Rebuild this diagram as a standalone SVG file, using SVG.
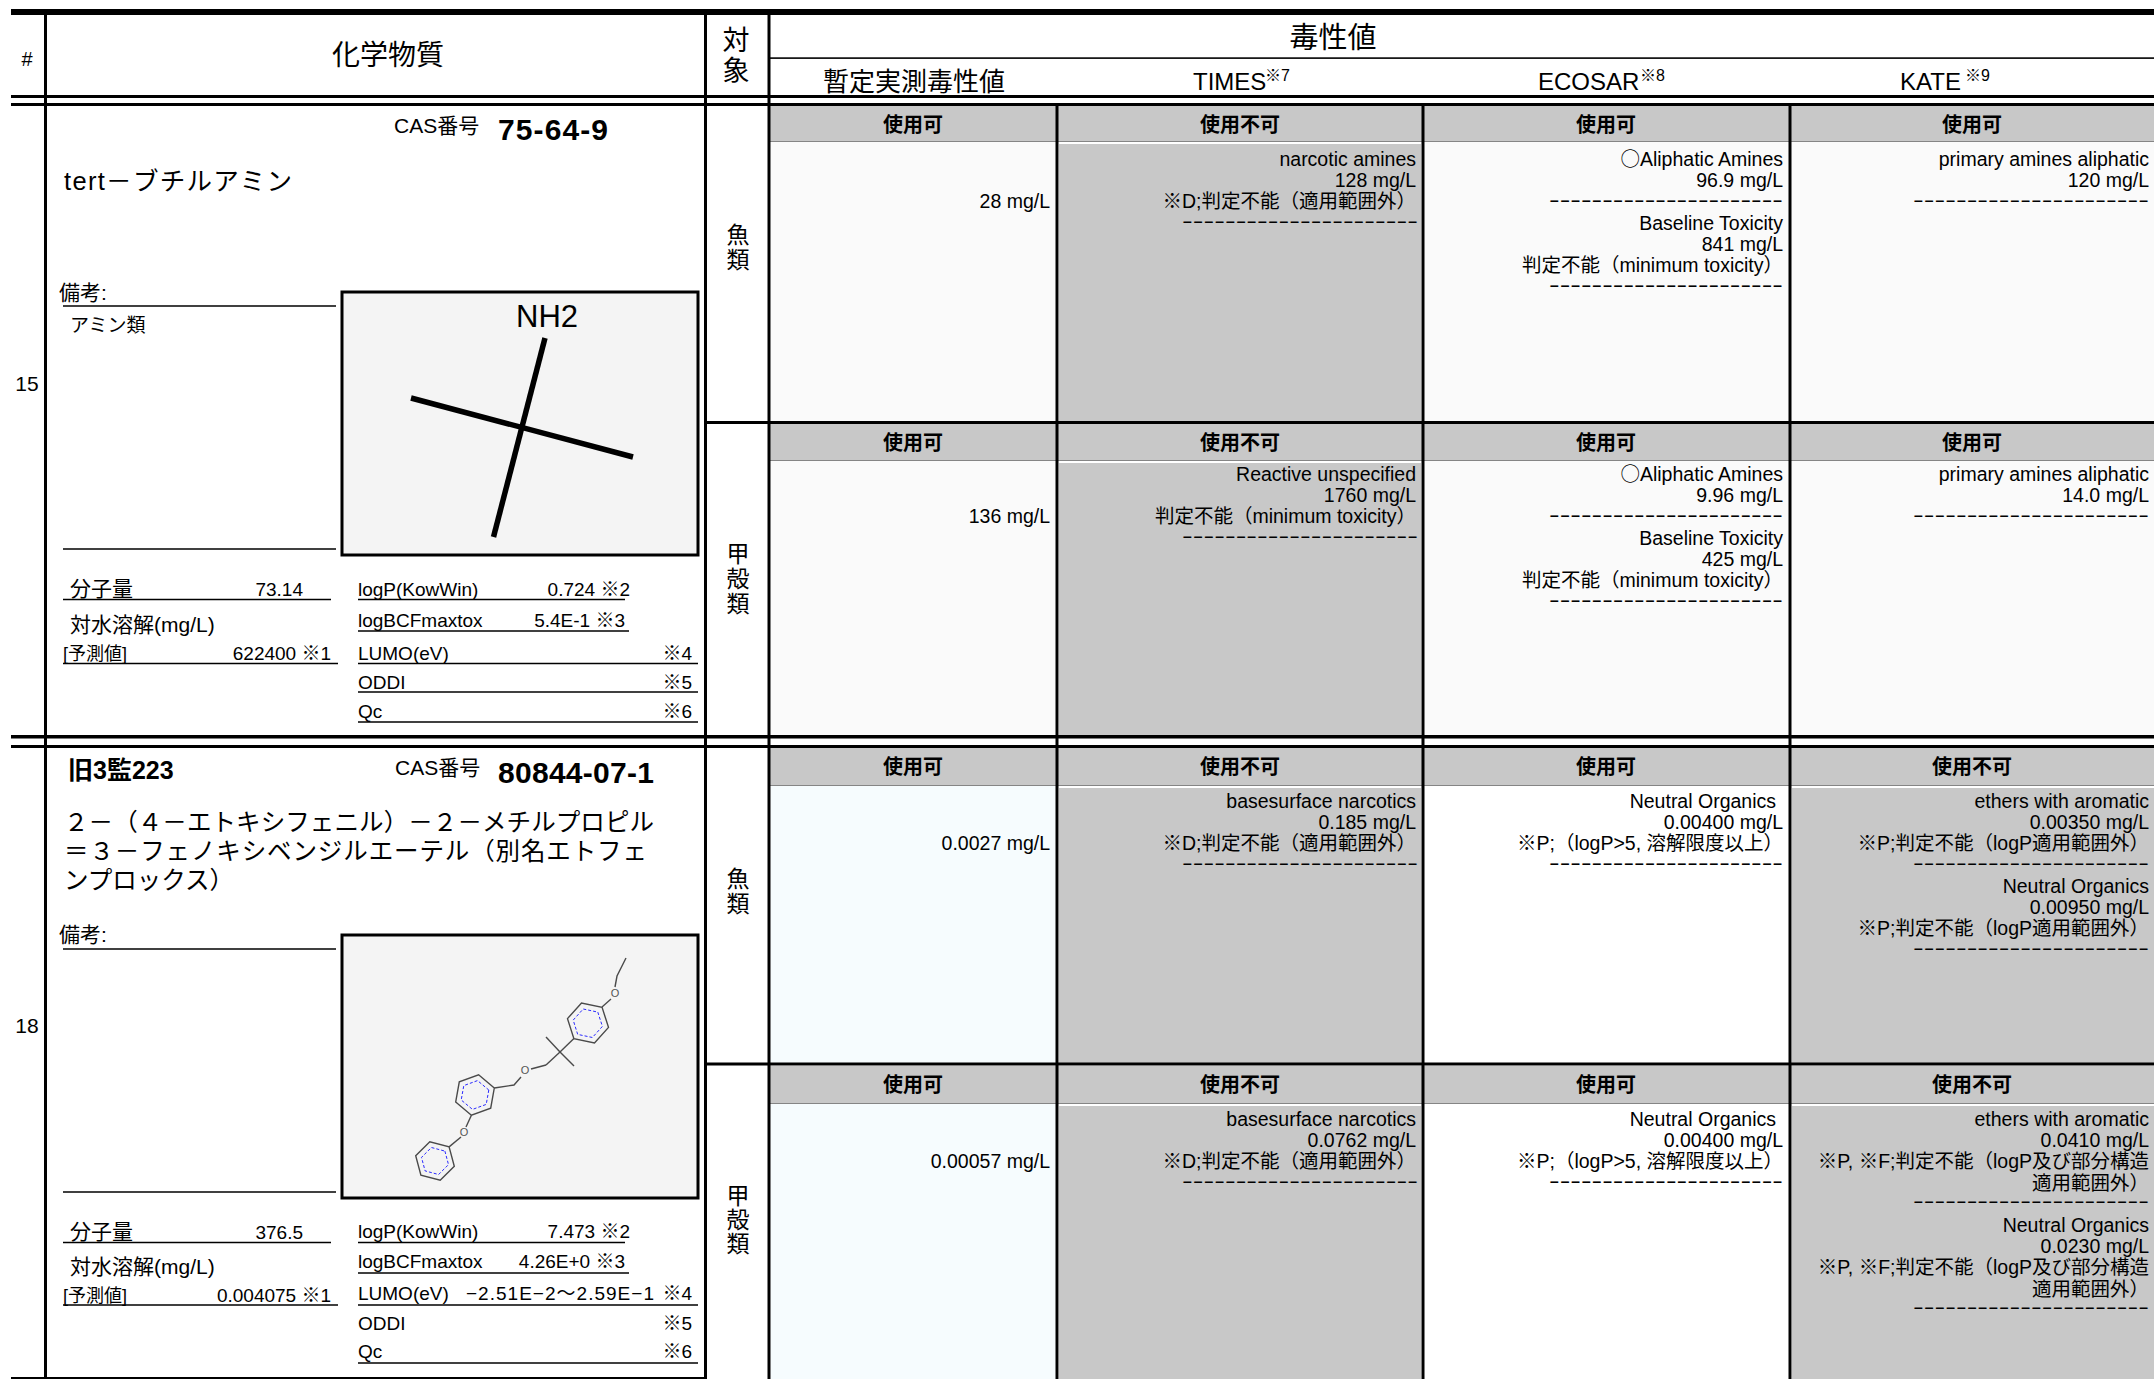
<svg xmlns="http://www.w3.org/2000/svg" width="2154" height="1379" viewBox="0 0 2154 1379">
<style>
text{font-family:"Liberation Sans","Noto Sans CJK JP",sans-serif;fill:#000}
.j{font-family:"Noto Sans CJK JP","Liberation Sans",sans-serif}
.d{font-size:19.5px;text-anchor:end}
.dash{font-size:19.5px;text-anchor:end}
.b{font-size:20px;font-weight:bold;text-anchor:middle}
.m{text-anchor:middle}
.e{text-anchor:end}
.p{font-size:19px}
.v{font-family:"Noto Sans CJK JP",sans-serif;font-size:23px;writing-mode:tb}
.band{fill:#c8c8c8}
.bandl{stroke:#858585;stroke-width:1}
.ok{fill:#fafafa}
.ok2{fill:#f6fcfe}
.wh{fill:#ffffff}
.ng{fill:#c8c8c8}
.ul{stroke:#000;stroke-width:1.5}
.bl{fill:#000}
.box{fill:#f4f4f4;stroke:#000;stroke-width:3}
.mol{stroke:#4a4a4a;stroke-width:1.4;fill:none}
.aro{stroke:#2a2aff;stroke-width:1;fill:none;stroke-dasharray:3 2}
.ol{font-size:11px;fill:#555;text-anchor:middle}
</style>
<rect x="0" y="0" width="2154" height="1379" fill="#ffffff"/>

<g id="backgrounds">
  <rect class="band" x="769" y="106" width="1385" height="35"/>
  <line class="bandl" x1="769" y1="141.5" x2="2154" y2="141.5"/>
  <rect class="ok" x="770.5" y="142" width="285" height="279"/>
  <rect class="ng" x="1059" y="144" width="362" height="277"/>
  <rect class="ok" x="1424.5" y="142" width="364" height="279"/>
  <rect class="ok" x="1791.5" y="142" width="363" height="279"/>

  <rect class="band" x="769" y="424" width="1385" height="36"/>
  <line class="bandl" x1="769" y1="460.5" x2="2154" y2="460.5"/>
  <rect class="ok" x="770.5" y="461" width="285" height="274"/>
  <rect class="ng" x="1059" y="463" width="362" height="272"/>
  <rect class="ok" x="1424.5" y="461" width="364" height="274"/>
  <rect class="ok" x="1791.5" y="461" width="363" height="274"/>

  <rect class="band" x="769" y="748" width="1385" height="37"/>
  <line class="bandl" x1="769" y1="785.5" x2="2154" y2="785.5"/>
  <rect class="ok2" x="770.5" y="786" width="285" height="277"/>
  <rect class="ng" x="1059" y="788" width="362" height="275"/>
  <rect class="wh" x="1424.5" y="786" width="364" height="277"/>
  <rect class="ng" x="1792" y="788" width="362" height="275"/>

  <rect class="band" x="769" y="1066" width="1385" height="37"/>
  <line class="bandl" x1="769" y1="1103.5" x2="2154" y2="1103.5"/>
  <rect class="ok2" x="770.5" y="1104" width="285" height="275"/>
  <rect class="ng" x="1059" y="1106" width="362" height="273"/>
  <rect class="wh" x="1424.5" y="1104" width="364" height="275"/>
  <rect class="ng" x="1792" y="1106" width="362" height="273"/>
</g>

<g id="connectors">
  <rect class="bl" x="11" y="9" width="2143" height="6"/>
  <rect class="bl" x="11" y="95" width="2143" height="3"/>
  <rect class="bl" x="11" y="103" width="2143" height="3"/>
  <rect class="bl" x="769" y="57.3" width="1385" height="1.6"/>
  <rect class="bl" x="44" y="9" width="3" height="1370"/>
  <rect class="bl" x="704" y="9" width="3" height="1370"/>
  <rect class="bl" x="767.5" y="9" width="3" height="1370"/>
  <rect class="bl" x="1055.5" y="103" width="3" height="1276"/>
  <rect class="bl" x="1421.5" y="103" width="3" height="1276"/>
  <rect class="bl" x="1788.5" y="103" width="3" height="1276"/>
  <rect class="bl" x="704" y="421" width="1450" height="3"/>
  <rect class="bl" x="11" y="735" width="2143" height="3.5"/>
  <rect class="bl" x="11" y="745" width="2143" height="3"/>
  <rect class="bl" x="704" y="1062.5" width="1450" height="3"/>
  <rect class="bl" x="11" y="1377" width="695" height="2"/>
</g>

<g id="header">
  <text x="27" y="66" class="m" font-size="20">#</text>
  <text x="388" y="65" class="m j" font-size="28">化学物質</text>
  <text x="736" y="26" class="v" style="font-size:27px" letter-spacing="3">対象</text>
  <text x="1333" y="48" class="m j" font-size="29">毒性値</text>
  <text x="823" y="91" class="j" font-size="26">暫定実測毒性値</text>
  <text x="1193" y="90" font-size="24">TIMES</text><text x="1265" y="81" font-size="16">※7</text>
  <text x="1538" y="90" font-size="24">ECOSAR</text><text x="1640" y="81" font-size="16">※8</text>
  <text x="1900" y="90" font-size="24">KATE</text><text x="1965" y="81" font-size="16">※9</text>
</g>

<g id="row15-chem">
  <text x="27" y="391" class="m" font-size="21">15</text>
  <text x="394" y="133" font-size="21">CAS番号</text>
  <text x="498" y="140" font-size="30" font-weight="bold" textLength="110">75-64-9</text>
  <text x="64" y="190" font-size="25.5" textLength="228">tert－ブチルアミン</text>
  <text x="59" y="300" font-size="21">備考:</text>
  <line class="ul" x1="63" y1="306" x2="336" y2="306"/>
  <text x="70" y="332" font-size="19">アミン類</text>
  <line class="ul" x1="63" y1="549" x2="336" y2="549"/>
  <g id="row15-structure">
    <rect class="box" x="342" y="292" width="356" height="263"/>
    <text x="516" y="327" font-size="31" fill="#111">NH2</text>
    <line x1="545" y1="338" x2="493.5" y2="537" stroke="#000" stroke-width="5.5"/>
    <line x1="411" y1="398" x2="633" y2="457" stroke="#000" stroke-width="5.5"/>
  </g>
  <text x="70" y="596" font-size="21">分子量</text>
  <text x="303" y="596" class="e p">73.14</text>
  <line class="ul" x1="63" y1="599.5" x2="331" y2="599.5"/>
  <text x="70" y="632" font-size="21">対水溶解(mg/L)</text>
  <text x="63" y="660" font-size="18">[予測値]</text>
  <text x="331" y="660" class="e p">622400 ※1</text>
  <line class="ul" x1="63" y1="663.5" x2="338" y2="663.5"/>
  <text x="358" y="596" class="p">logP(KowWin)</text>
  <text x="630" y="596" class="e p">0.724 ※2</text>
  <line class="ul" x1="358" y1="599.5" x2="625" y2="599.5"/>
  <text x="358" y="627" class="p">logBCFmaxtox</text>
  <text x="625" y="627" class="e p">5.4E-1 ※3</text>
  <line class="ul" x1="358" y1="631" x2="629" y2="631"/>
  <text x="358" y="660" class="p">LUMO(eV)</text>
  <text x="692" y="660" class="e p">※4</text>
  <line class="ul" x1="358" y1="663.5" x2="698" y2="663.5"/>
  <text x="358" y="689" class="p">ODDI</text>
  <text x="692" y="689" class="e p">※5</text>
  <line class="ul" x1="358" y1="692" x2="698" y2="692"/>
  <text x="358" y="718" class="p">Qc</text>
  <text x="692" y="718" class="e p">※6</text>
  <line class="ul" x1="358" y1="722" x2="698" y2="722"/>
</g>

<g id="row15-fish">
  <text x="738" y="222.5" class="v" letter-spacing="2">魚類</text>
  <text x="913" y="132" class="b">使用可</text>
  <text x="1240" y="132" class="b">使用不可</text>
  <text x="1606" y="132" class="b">使用可</text>
  <text x="1972" y="132" class="b">使用可</text>
  <text class="d" x="1050" y="208.4">28 mg/L</text>
  <text class="d" x="1416" y="166">narcotic amines</text>
  <text class="d" x="1416" y="187.2">128 mg/L</text>
  <text class="d" x="1416" y="208.4">※D;判定不能（適用範囲外）</text>
  <text class="dash" x="1418" y="228.1" textLength="236" lengthAdjust="spacingAndGlyphs">----------------------</text>
  <text class="d" x="1783" y="166"><tspan class="j">○</tspan>Aliphatic Amines</text>
  <text class="d" x="1783" y="187.2">96.9 mg/L</text>
  <text class="dash" x="1783" y="206.9" textLength="234" lengthAdjust="spacingAndGlyphs">----------------------</text>
  <text class="d" x="1783" y="229.6">Baseline Toxicity</text>
  <text class="d" x="1783" y="250.8">841 mg/L</text>
  <text class="d" x="1783" y="272">判定不能（minimum toxicity）</text>
  <text class="dash" x="1783" y="291.7" textLength="234" lengthAdjust="spacingAndGlyphs">----------------------</text>
  <text class="d" x="2149" y="166">primary amines aliphatic</text>
  <text class="d" x="2149" y="187.2">120 mg/L</text>
  <text class="dash" x="2149" y="206.9" textLength="236" lengthAdjust="spacingAndGlyphs">----------------------</text>
</g>

<g id="row15-crustacean">
  <text x="738" y="542" class="v" letter-spacing="2">甲殻類</text>
  <text x="913" y="450" class="b">使用可</text>
  <text x="1240" y="450" class="b">使用不可</text>
  <text x="1606" y="450" class="b">使用可</text>
  <text x="1972" y="450" class="b">使用可</text>
  <text class="d" x="1050" y="523.4">136 mg/L</text>
  <text class="d" x="1416" y="481">Reactive unspecified</text>
  <text class="d" x="1416" y="502.2">1760 mg/L</text>
  <text class="d" x="1416" y="523.4">判定不能（minimum toxicity）</text>
  <text class="dash" x="1418" y="543.1" textLength="236" lengthAdjust="spacingAndGlyphs">----------------------</text>
  <text class="d" x="1783" y="481"><tspan class="j">○</tspan>Aliphatic Amines</text>
  <text class="d" x="1783" y="502.2">9.96 mg/L</text>
  <text class="dash" x="1783" y="521.9" textLength="234" lengthAdjust="spacingAndGlyphs">----------------------</text>
  <text class="d" x="1783" y="544.6">Baseline Toxicity</text>
  <text class="d" x="1783" y="565.8">425 mg/L</text>
  <text class="d" x="1783" y="587">判定不能（minimum toxicity）</text>
  <text class="dash" x="1783" y="606.7" textLength="234" lengthAdjust="spacingAndGlyphs">----------------------</text>
  <text class="d" x="2149" y="481">primary amines aliphatic</text>
  <text class="d" x="2149" y="502.2">14.0 mg/L</text>
  <text class="dash" x="2149" y="521.9" textLength="236" lengthAdjust="spacingAndGlyphs">----------------------</text>
</g>

<g id="row18-chem">
  <text x="27" y="1033" class="m" font-size="21">18</text>
  <text x="68" y="779" font-size="25" font-weight="bold">旧3監223</text>
  <text x="395" y="775" font-size="21">CAS番号</text>
  <text x="498" y="783" font-size="30" font-weight="bold" textLength="156">80844-07-1</text>
  <text x="64" y="831" font-size="24.5" textLength="590">２－（４－エトキシフェニル）－２－メチルプロピル</text>
  <text x="64" y="860" font-size="24.5" textLength="583">＝３－フェノキシベンジルエーテル（別名エトフェ</text>
  <text x="64" y="889" font-size="24.5">ンプロックス）</text>
  <text x="59" y="942" font-size="21">備考:</text>
  <line class="ul" x1="63" y1="949" x2="336" y2="949"/>
  <line class="ul" x1="63" y1="1192" x2="336" y2="1192"/>
  <g id="row18-structure">
    <rect class="box" x="342" y="935" width="356" height="263"/>
    <polyline class="mol" points="626,958 617,976 615,987"/>
    <text class="ol" x="615" y="997">O</text>
    <line class="mol" x1="611" y1="999" x2="602" y2="1007"/>
    <polygon class="mol" points="602.1,1007.4 608.5,1027.4 594.5,1043 573.9,1038.6 567.5,1018.6 581.5,1003"/>
    <polygon class="aro" points="597.8,1012.1 602.4,1026.4 592.4,1037.5 577.7,1034.4 573.2,1020.1 583.2,1009"/>
    <line class="mol" x1="573.9" y1="1038.6" x2="560" y2="1052"/>
    <line class="mol" x1="560" y1="1052" x2="546" y2="1037"/>
    <line class="mol" x1="560" y1="1052" x2="574" y2="1066"/>
    <line class="mol" x1="560" y1="1052" x2="546" y2="1065"/>
    <line class="mol" x1="546" y1="1065" x2="531" y2="1069"/>
    <text class="ol" x="525" y="1074">O</text>
    <polyline class="mol" points="521,1077 514,1085 494.3,1088"/>
    <polygon class="mol" points="494.3,1088 490.7,1108.2 471.4,1115.2 455.7,1102 459.3,1081.8 478.6,1074.8"/>
    <polygon class="aro" points="488.8,1090 486.2,1104.4 472.5,1109.4 461.2,1100 463.8,1085.6 477.5,1080.6"/>
    <line class="mol" x1="471.4" y1="1115.2" x2="466" y2="1127"/>
    <text class="ol" x="464" y="1136">O</text>
    <line class="mol" x1="461" y1="1137" x2="449.1" y2="1146.9"/>
    <polygon class="mol" points="449.1,1146.9 454.3,1166.2 440.2,1180.3 420.9,1175.1 415.7,1155.8 429.8,1141.7"/>
    <polygon class="aro" points="444.9,1151.1 448.5,1164.6 438.6,1174.5 425.1,1170.9 421.5,1157.4 431.4,1147.5"/>
  </g>
  <text x="70" y="1239" font-size="21">分子量</text>
  <text x="303" y="1239" class="e p">376.5</text>
  <line class="ul" x1="63" y1="1242.5" x2="331" y2="1242.5"/>
  <text x="70" y="1274" font-size="21">対水溶解(mg/L)</text>
  <text x="63" y="1302" font-size="18">[予測値]</text>
  <text x="331" y="1302" class="e p">0.004075 ※1</text>
  <line class="ul" x1="63" y1="1305" x2="338" y2="1305"/>
  <text x="358" y="1238" class="p">logP(KowWin)</text>
  <text x="630" y="1238" class="e p">7.473 ※2</text>
  <line class="ul" x1="358" y1="1242.5" x2="625" y2="1242.5"/>
  <text x="358" y="1268" class="p">logBCFmaxtox</text>
  <text x="625" y="1268" class="e p">4.26E+0 ※3</text>
  <line class="ul" x1="358" y1="1273" x2="629" y2="1273"/>
  <text x="358" y="1300" class="p">LUMO(eV)</text>
  <text x="466" y="1300" class="p" textLength="188">−2.51E−2〜2.59E−1</text>
  <text x="692" y="1300" class="e p">※4</text>
  <line class="ul" x1="358" y1="1305" x2="698" y2="1305"/>
  <text x="358" y="1330" class="p">ODDI</text>
  <text x="692" y="1330" class="e p">※5</text>
  <text x="358" y="1358" class="p">Qc</text>
  <text x="692" y="1358" class="e p">※6</text>
  <line class="ul" x1="358" y1="1363" x2="698" y2="1363"/>
</g>

<g id="row18-fish">
  <text x="738" y="866.5" class="v" letter-spacing="2">魚類</text>
  <text x="913" y="774" class="b">使用可</text>
  <text x="1240" y="774" class="b">使用不可</text>
  <text x="1606" y="774" class="b">使用可</text>
  <text x="1972" y="774" class="b">使用不可</text>
  <text class="d" x="1050" y="850.4">0.0027 mg/L</text>
  <text class="d" x="1416" y="808">basesurface narcotics</text>
  <text class="d" x="1416" y="829.2">0.185 mg/L</text>
  <text class="d" x="1416" y="850.4">※D;判定不能（適用範囲外）</text>
  <text class="dash" x="1418" y="870.1" textLength="236" lengthAdjust="spacingAndGlyphs">----------------------</text>
  <text class="d" x="1776" y="808">Neutral Organics</text>
  <text class="d" x="1783" y="829.2">0.00400 mg/L</text>
  <text class="d" x="1783" y="850.4">※P;（logP&gt;5, 溶解限度以上）</text>
  <text class="dash" x="1783" y="870.1" textLength="234" lengthAdjust="spacingAndGlyphs">----------------------</text>
  <text class="d" x="2149" y="808">ethers with aromatic</text>
  <text class="d" x="2149" y="829.2">0.00350 mg/L</text>
  <text class="d" x="2149" y="850.4">※P;判定不能（logP適用範囲外）</text>
  <text class="dash" x="2149" y="870.1" textLength="236" lengthAdjust="spacingAndGlyphs">----------------------</text>
  <text class="d" x="2149" y="892.8">Neutral Organics</text>
  <text class="d" x="2149" y="914">0.00950 mg/L</text>
  <text class="d" x="2149" y="935.2">※P;判定不能（logP適用範囲外）</text>
  <text class="dash" x="2149" y="954.9" textLength="236" lengthAdjust="spacingAndGlyphs">----------------------</text>
</g>

<g id="row18-crustacean">
  <text x="738" y="1183.5" class="v" letter-spacing="1">甲殻類</text>
  <text x="913" y="1092" class="b">使用可</text>
  <text x="1240" y="1092" class="b">使用不可</text>
  <text x="1606" y="1092" class="b">使用可</text>
  <text x="1972" y="1092" class="b">使用不可</text>
  <text class="d" x="1050" y="1168.4">0.00057 mg/L</text>
  <text class="d" x="1416" y="1126">basesurface narcotics</text>
  <text class="d" x="1416" y="1147.2">0.0762 mg/L</text>
  <text class="d" x="1416" y="1168.4">※D;判定不能（適用範囲外）</text>
  <text class="dash" x="1418" y="1188.1" textLength="236" lengthAdjust="spacingAndGlyphs">----------------------</text>
  <text class="d" x="1776" y="1126">Neutral Organics</text>
  <text class="d" x="1783" y="1147.2">0.00400 mg/L</text>
  <text class="d" x="1783" y="1168.4">※P;（logP&gt;5, 溶解限度以上）</text>
  <text class="dash" x="1783" y="1188.1" textLength="234" lengthAdjust="spacingAndGlyphs">----------------------</text>
  <text class="d" x="2149" y="1126">ethers with aromatic</text>
  <text class="d" x="2149" y="1147.2">0.0410 mg/L</text>
  <text class="d" x="2149" y="1168.4">※P, ※F;判定不能（logP及び部分構造</text>
  <text class="d" x="2149" y="1189.6">適用範囲外）</text>
  <text class="dash" x="2149" y="1208.3" textLength="236" lengthAdjust="spacingAndGlyphs">----------------------</text>
  <text class="d" x="2149" y="1232">Neutral Organics</text>
  <text class="d" x="2149" y="1253.2">0.0230 mg/L</text>
  <text class="d" x="2149" y="1274.4">※P, ※F;判定不能（logP及び部分構造</text>
  <text class="d" x="2149" y="1295.6">適用範囲外）</text>
  <text class="dash" x="2149" y="1314.3" textLength="236" lengthAdjust="spacingAndGlyphs">----------------------</text>
</g>
</svg>
